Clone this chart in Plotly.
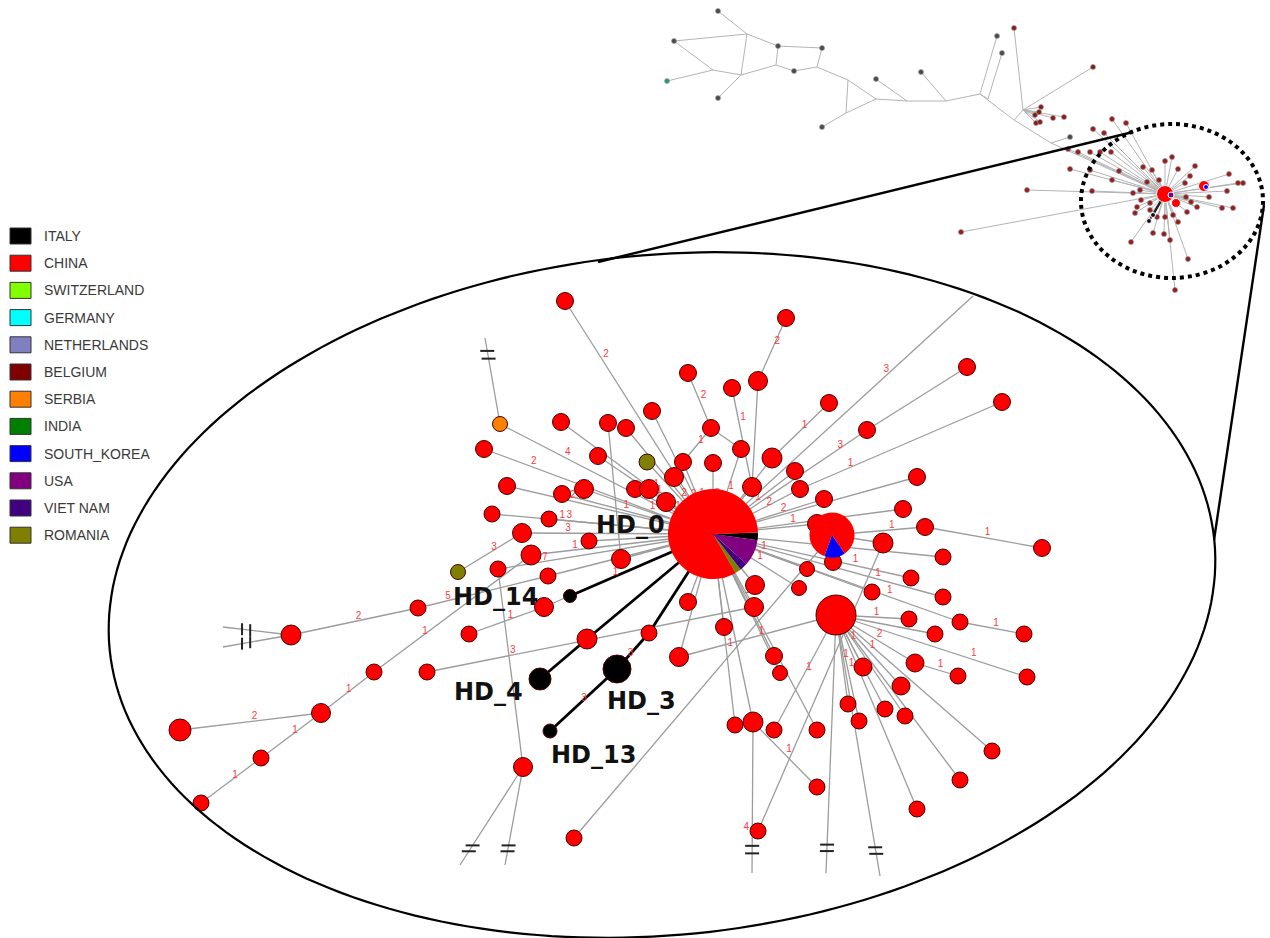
import numpy as np
import plotly.graph_objects as go

W, H = 1270, 938

# ---------------------------------------------------------------- legend
countries = ["ITALY", "CHINA", "SWITZERLAND", "GERMANY", "NETHERLANDS", "BELGIUM",
             "SERBIA", "INDIA", "SOUTH_KOREA", "USA", "VIET NAM", "ROMANIA"]
country_colors = ["#000000", "#ff0000", "#80ff00", "#00ffff", "#8080c0", "#800000",
                  "#ff8000", "#008000", "#0000ff", "#800080", "#400080", "#808000"]
color_of = dict(zip(countries, country_colors))

# ------------------------------------------- haplotype network (zoomed view)
hap_x = [713, 832, 836, 565, 786, 688, 732, 758, 829, 967,
         1002, 867, 652, 608, 626, 711, 741, 772, 500, 561,
         484, 598, 647, 683, 713, 795, 674, 752, 800, 917,
         635, 649, 507, 562, 584, 666, 824, 903, 925, 817,
         492, 549, 522, 589, 531, 621, 458, 498, 548, 570,
         544, 688, 469, 587, 649, 724, 679, 427, 540, 617,
         550, 523, 735, 753, 755, 754, 807, 799, 833, 883,
         1042, 943, 911, 872, 943, 909, 960, 935, 1024, 774,
         780, 863, 915, 958, 1027, 901, 848, 885, 905, 859,
         774, 817, 992, 960, 817, 917, 758, 574, 418, 291,
         374, 321, 261, 201, 180]
hap_y = [534, 535, 615, 301, 318, 373, 388, 381, 403, 367,
         402, 430, 411, 423, 428, 428, 449, 458, 424, 422,
         449, 456, 462, 462, 463, 471, 477, 487, 489, 477,
         489, 489, 486, 494, 489, 502, 499, 509, 527, 524,
         514, 519, 533, 541, 555, 559, 572, 569, 576, 596,
         607, 602, 634, 639, 633, 627, 657, 672, 679, 669,
         731, 767, 725, 722, 585, 607, 569, 588, 562, 543,
         548, 557, 578, 592, 597, 619, 622, 634, 634, 656,
         673, 667, 663, 676, 677, 686, 704, 709, 716, 721,
         730, 730, 751, 780, 787, 809, 831, 838, 608, 635,
         672, 713, 758, 803, 730]
hap_size = [90, 45, 40, 17, 17, 17, 17, 19, 17, 17,
            17, 17, 17, 17, 17, 17, 17, 20, 15, 17,
            17, 17, 16, 17, 17, 17, 19, 19, 17, 17,
            17, 19, 17, 17, 19, 19, 17, 17, 17, 19,
            16, 16, 19, 16, 20, 19, 15, 16, 16, 13,
            19, 17, 16, 20, 16, 17, 19, 16, 22, 28,
            14, 19, 16, 20, 19, 19, 15, 15, 17, 20,
            17, 16, 16, 16, 16, 16, 16, 16, 16, 17,
            15, 18, 18, 16, 16, 18, 16, 16, 16, 16,
            16, 16, 16, 16, 16, 16, 16, 16, 16, 20,
            16, 19, 16, 16, 22]
hap_country = {18: "SERBIA", 22: "ROMANIA", 46: "ROMANIA",
               49: "ITALY", 58: "ITALY", 59: "ITALY", 60: "ITALY"}
hap_names = {0: "HD_0", 49: "HD_14", 58: "HD_4", 59: "HD_3", 60: "HD_13"}
name_pos = {"HD_0": (630, 525), "HD_14": (495, 597), "HD_4": (488, 692),
            "HD_3": (641, 701), "HD_13": (593, 755)}

# shared haplotypes (pie nodes)
hub_countries = ["ITALY", "CHINA", "ROMANIA", "VIET NAM", "USA"]
hub_counts = [10, 298, 8, 10, 34]
pie2_countries = ["SOUTH_KOREA", "CHINA"]
pie2_counts = [55, 305]

# links: (from, to, mutations, label position along the link)
links = [
    (3, 0, "2", .25), (4, 7, "2", .45), (7, 27, "", 0), (27, 0, "1", .5),
    (5, 15, "2", .5), (15, 23, "1", .5), (15, 16, "", 0), (6, 27, "1", .35),
    (8, 17, "1", .5), (17, 0, "1", .45), (9, 11, "", 0), (11, 0, "3", .2),
    (10, 28, "1", .77), (28, 0, "2", .4), (12, 0, "", 0), (13, 45, "", 0),
    (14, 0, "", 0), (16, 0, "1", .5), (18, 0, "4", .3), (19, 0, "1", .6),
    (20, 0, "2", .2), (21, 0, "1", .5), (22, 0, "2", .5), (23, 0, "1", .5),
    (24, 0, "3", .5), (25, 0, "1", .5), (26, 0, "2", .4), (29, 0, "1", .45),
    (30, 0, "1", .5), (31, 0, "", 0), (32, 0, "2", .3), (33, 0, "1", .4),
    (34, 0, "1", .5), (35, 0, "1", .5), (36, 0, "2", .4), (37, 0, "1", .6),
    (38, 1, "1", .4), (38, 70, "1", .5), (39, 0, "", 0), (40, 0, "1", .3),
    (41, 0, "3", .1), (42, 0, "3", .22), (46, 42, "3", .5), (43, 0, "", 0),
    (44, 0, "1", .22), (45, 0, "1", .5), (47, 0, "7", .2), (47, 61, "", 0),
    (48, 0, "", 0), (50, 0, "1", .4), (52, 50, "1", .5), (51, 0, "1", .5),
    (55, 0, "1", .5), (56, 0, "", 0), (56, 2, "1", .5), (57, 65, "3", .25),
    (62, 0, "1", .4), (63, 0, "", 0), (63, 94, "1", .5), (64, 0, "1", .5),
    (65, 0, "", 0), (66, 0, "1", .5), (67, 0, "1", .5), (68, 1, "", 0),
    (69, 1, "", 0), (71, 0, "1", .3), (72, 0, "1", .3), (73, 0, "", 0),
    (74, 0, "1", .3), (75, 2, "1", .5), (76, 0, "1", .3), (77, 2, "", 0),
    (78, 76, "1", .5), (79, 0, "1", .5), (80, 0, "", 0), (81, 2, "1", .5),
    (82, 2, "2", .5), (83, 82, "1", .5), (84, 2, "1", .3), (85, 2, "1", .5),
    (86, 2, "1", .5), (87, 2, "", 0), (88, 2, "", 0), (89, 2, "1", .5),
    (90, 2, "1", .5), (91, 0, "2", .6), (92, 2, "", 0), (93, 2, "", 0),
    (95, 2, "", 0), (96, 69, "", 0), (97, 1, "", 0), (98, 48, "5", .2),
    (99, 98, "2", .5), (100, 44, "1", .3), (101, 100, "1", .45),
    (102, 101, "1", .5), (103, 102, "1", .5), (104, 101, "2", .5),
]
# Italian lineages
italy_links = [(49, 0, "", 0), (58, 53, "", 0), (53, 0, "", 0),
               (59, 54, "3", .3), (54, 0, "", 0), (60, 59, "3", .45)]
# links leaving the view: (from, end x, end y, mutations, label pos, break marks)
stubs = [
    (0, 973, 296, "3", .69, None),
    (18, 485, 338, "", 0, (.76, .85)),
    (99, 223, 627, "", 0, (.6, .72)),
    (99, 223, 647, "", 0, (.6, .72)),
    (61, 460, 865, "", 0, (.8, .86)),
    (61, 505, 865, "", 0, (.8, .86)),
    (63, 752, 873, "4", .7, (.82, .87)),
    (2, 826, 873, "", 0, (.89, .915)),
    (2, 880, 876, "", 0, (.89, .915)),
]

# ------------------------------------------------ overview network (inset)
ov_x = [718, 674, 778, 822, 667, 718, 794, 876, 921, 822,
        997, 1014, 1002, 1093, 1070, 747, 741, 713, 776, 817,
        848, 876, 846, 907, 946, 980, 988, 1014, 1023, 1051,
        1041, 1039, 1035, 1036, 1040, 1053, 1064, 1165]
ov_y = [11, 41, 46, 48, 81, 98, 71, 79, 72, 127,
        36, 28, 53, 67, 137, 34, 75, 70, 65, 67,
        80, 99, 113, 101, 101, 94, 99, 120, 110, 143,
        107, 112, 115, 123, 122, 118, 117, 194]
ov_kind = ["g", "g", "g", "g", "t", "g", "g", "g", "g", "g",
           "g", "r", "g", "r", "g", "j", "j", "j", "j", "j",
           "j", "j", "j", "j", "j", "j", "j", "j", "j", "j",
           "r", "r", "r", "r", "r", "r", "r", "hub"]
ov_links = [(0, 15), (1, 15), (15, 2), (15, 16), (2, 18), (2, 3), (3, 19),
            (18, 6), (6, 19), (1, 17), (4, 17), (17, 16), (16, 5), (16, 18),
            (19, 20), (20, 22), (20, 21), (22, 21), (22, 9), (7, 23), (21, 23),
            (23, 24), (8, 24), (24, 25), (25, 10), (26, 12), (25, 26), (25, 27),
            (27, 29), (11, 28), (28, 13), (28, 30), (28, 31), (28, 32), (28, 33),
            (28, 34), (28, 35), (28, 36), (27, 28), (14, 29), (29, 37)]
ov_cluster_x = [1093, 1112, 1126, 1104, 1068, 1078, 1090, 1100, 1111, 1070,
                1090, 1112, 1092, 1119, 1143, 1165, 1172, 1178, 1195, 1152,
                1159, 1147, 1133, 1140, 1141, 1137, 1190, 1185, 1229, 1238,
                1227, 1209, 1186, 1191, 1197, 1187, 1222, 1233, 1150, 1157,
                1165, 1173, 1178, 1135, 1150, 1153, 1164, 1170, 1131, 1188,
                1175, 1027, 961, 1243]
ov_cluster_y = [129, 119, 123, 133, 149, 152, 152, 152, 152, 169,
                170, 180, 191, 171, 167, 161, 157, 169, 166, 170,
                180, 182, 193, 190, 200, 207, 176, 183, 174, 183,
                191, 197, 197, 202, 207, 212, 208, 208, 210, 217,
                217, 215, 222, 213, 203, 233, 234, 240, 242, 259,
                290, 190, 232, 183]
ov_big_x, ov_big_y = [1204, 1176], [186, 203]
ov_italy_x, ov_italy_y = [1153, 1149], [215, 221]

# ----------------------------------------------------------------- figure
fig = go.Figure()


def seg(xs, ys, pairs):
    px, py = [], []
    for a, b in pairs:
        px += [xs[a], xs[b], None]
        py += [ys[a], ys[b], None]
    return px, py


# inset: tree links and cluster spokes
ox, oy = seg(ov_x, ov_y, ov_links)
hub_i = len(ov_x) - 1
for cx, cy in zip(ov_cluster_x, ov_cluster_y):
    ox += [cx, ov_x[hub_i], None]
    oy += [cy, ov_y[hub_i], None]
fig.add_trace(go.Scatter(x=ox, y=oy, mode="lines",
                         line=dict(color="#b4b4b4", width=1), hoverinfo="skip"))
ix, iy = [], []
for cx, cy in zip(ov_italy_x, ov_italy_y):
    ix += [cx, ov_x[hub_i], None]
    iy += [cy, ov_y[hub_i], None]
fig.add_trace(go.Scatter(x=ix, y=iy, mode="lines",
                         line=dict(color="#222", width=2), hoverinfo="skip"))

kind_col = {"g": "#4a4a4a", "t": "#2a9a7a", "r": "#8a1a1a"}
nodes = [i for i, k in enumerate(ov_kind) if k in kind_col]
fig.add_trace(go.Scatter(
    x=[ov_x[i] for i in nodes], y=[ov_y[i] for i in nodes], mode="markers",
    marker=dict(size=5, opacity=1, color=[kind_col[ov_kind[i]] for i in nodes],
                line=dict(color="#999", width=0.6)), hoverinfo="skip"))
fig.add_trace(go.Scatter(
    x=ov_cluster_x, y=ov_cluster_y, mode="markers",
    marker=dict(size=5, opacity=1, color="#9a1c1c", line=dict(color="#888", width=0.6)),
    hoverinfo="skip"))
fig.add_trace(go.Scatter(
    x=[ov_x[hub_i]] + ov_big_x, y=[ov_y[hub_i]] + ov_big_y, mode="markers",
    marker=dict(size=[17, 11, 9], opacity=1, color="#ff0000"), hoverinfo="skip"))
fig.add_trace(go.Scatter(
    x=[ov_x[hub_i] + 6, ov_big_x[0] + 2] + ov_italy_x,
    y=[ov_y[hub_i] + 1, ov_big_y[0] + 1] + ov_italy_y, mode="markers",
    marker=dict(size=[6, 5, 5, 5], opacity=1,
                color=[color_of["USA"], color_of["SOUTH_KOREA"], "#111", "#111"]),
    hoverinfo="skip"))

# main view: links
gx, gy = seg(hap_x, hap_y, [(a, b) for a, b, _, _ in links])
for a, ex, ey, _, _, _ in stubs:
    gx += [hap_x[a], ex, None]
    gy += [hap_y[a], ey, None]
fig.add_trace(go.Scatter(x=gx, y=gy, mode="lines",
                         line=dict(color="#9c9c9c", width=1.3), hoverinfo="skip"))
kx, ky = seg(hap_x, hap_y, [(a, b) for a, b, _, _ in italy_links])
fig.add_trace(go.Scatter(x=kx, y=ky, mode="lines",
                         line=dict(color="#000", width=2.8), hoverinfo="skip"))

# break marks on links leaving the view (short bars across the link)
bx, by = [], []
for a, ex, ey, _, _, marks in stubs:
    if not marks:
        continue
    p0 = np.array([hap_x[a], hap_y[a]], float)
    p1 = np.array([ex, ey], float)
    steep = abs(p1[1] - p0[1]) > abs(p1[0] - p0[0])
    for t in marks:
        c = p0 + t * (p1 - p0)
        if steep:
            bx += [c[0] - 7, c[0] + 7, None]
            by += [c[1], c[1], None]
        else:
            bx += [c[0], c[0], None]
            by += [c[1] - 6, c[1] + 6, None]
fig.add_trace(go.Scatter(x=bx, y=by, mode="lines",
                         line=dict(color="#222", width=2), hoverinfo="skip"))

# mutation counts on links
lx, ly, lt = [], [], []
for a, b, lab, t in links + italy_links:
    if lab:
        lx.append(hap_x[a] + t * (hap_x[b] - hap_x[a]) + 4)
        ly.append(hap_y[a] + t * (hap_y[b] - hap_y[a]) - 5)
        lt.append(lab)
for a, ex, ey, lab, t, _ in stubs:
    if lab:
        lx.append(hap_x[a] + t * (ex - hap_x[a]) - 6)
        ly.append(hap_y[a] + t * (ey - hap_y[a]))
        lt.append(lab)
fig.add_trace(go.Scatter(x=lx, y=ly, text=lt, mode="text",
                         textfont=dict(family="Liberation Sans", size=10, color="#ff3a3a"),
                         hoverinfo="skip"))

# haplotype nodes (pies are drawn separately)
plain = [i for i in range(len(hap_x)) if i not in (0, 1)]
fig.add_trace(go.Scatter(
    x=[hap_x[i] for i in plain], y=[hap_y[i] for i in plain], mode="markers",
    marker=dict(size=[hap_size[i] for i in plain], opacity=1,
                color=[color_of[hap_country.get(i, "CHINA")] for i in plain],
                line=dict(color="#4a0000", width=1)),
    hoverinfo="skip"))


def pie_domain(i):
    r = hap_size[i] / 2
    return dict(x=[(hap_x[i] - r) / W, (hap_x[i] + r) / W],
                y=[1 - (hap_y[i] + r) / H, 1 - (hap_y[i] - r) / H])


fig.add_trace(go.Pie(values=hub_counts, labels=hub_countries, sort=False,
                     marker=dict(colors=[color_of[c] for c in hub_countries]),
                     rotation=88, direction="counterclockwise", domain=pie_domain(0),
                     textinfo="none", hoverinfo="skip", showlegend=False))
fig.add_trace(go.Pie(values=pie2_counts, labels=pie2_countries, sort=False,
                     marker=dict(colors=[color_of[c] for c in pie2_countries]),
                     rotation=145, direction="counterclockwise", domain=pie_domain(1),
                     textinfo="none", hoverinfo="skip", showlegend=False))

# haplotype names
annotations = []
for i, nm in hap_names.items():
    x0, y0 = name_pos[nm]
    annotations.append(dict(x=x0, y=y0, xref="x", yref="y", text="<b>%s</b>" % nm,
                            showarrow=False, font=dict(family="DejaVu Sans", size=24,
                                                       color="#111")))

# legend entries
shapes = []
for k, (c, col) in enumerate(zip(countries, country_colors)):
    yc = 236 + k * 27.2
    shapes.append(dict(type="rect", xref="x", yref="y", x0=10, x1=31,
                       y0=yc - 8, y1=yc + 8, fillcolor=col,
                       line=dict(color="#333", width=1)))
    annotations.append(dict(x=42, y=yc, xref="x", yref="y", text=c, xanchor="left",
                            showarrow=False,
                            font=dict(family="Liberation Sans", size=14, color="#3a3a3a")))

# zoom frame: ellipse around the main view, dotted circle in the overview
cx, cy, ra, rb, th = 662, 595, 555, 340, np.deg2rad(-5.7)
tt = np.linspace(0, 2 * np.pi, 241)
ex_ = cx + ra * np.cos(tt) * np.cos(th) - rb * np.sin(tt) * np.sin(th)
ey_ = cy + ra * np.cos(tt) * np.sin(th) + rb * np.sin(tt) * np.cos(th)
path = "M " + " L ".join("%.1f,%.1f" % (a, b) for a, b in zip(ex_, ey_)) + " Z"
shapes.append(dict(type="path", path=path, xref="x", yref="y",
                   line=dict(color="#000", width=2.2)))
shapes.append(dict(type="circle", xref="x", yref="y", x0=1081, x1=1263, y0=124, y1=278,
                   line=dict(color="#000", width=4, dash="dot")))
fig.add_trace(go.Scatter(x=[598, 1133, None, 1264, 1214], y=[262, 132, None, 205, 540],
                         mode="lines", line=dict(color="#000", width=2.4),
                         hoverinfo="skip"))

fig.update_layout(
    width=W, height=H, margin=dict(l=0, r=0, t=0, b=0),
    paper_bgcolor="white", plot_bgcolor="white", showlegend=False,
    xaxis=dict(range=[0, W], visible=False, fixedrange=True),
    yaxis=dict(range=[H, 0], visible=False, fixedrange=True),
    shapes=shapes, annotations=annotations,
)
fig.write_html("out.html")
